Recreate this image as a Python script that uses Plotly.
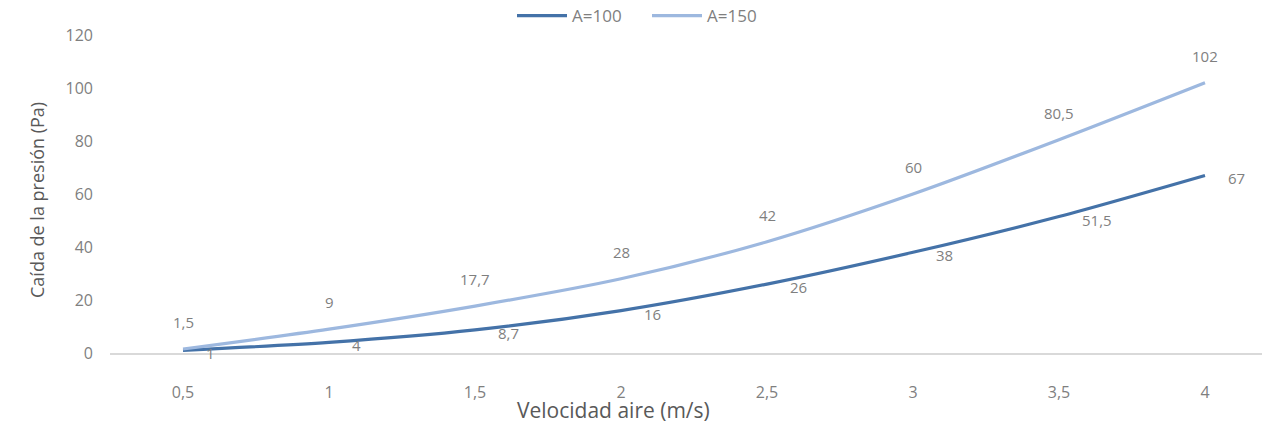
import plotly.graph_objects as go

categories = ["0,5", "1", "1,5", "2", "2,5", "3", "3,5", "4"]
a100 = [1, 4, 8.7, 16, 26, 38, 51.5, 67]
a150 = [1.5, 9, 17.7, 28, 42, 60, 80.5, 102]
y_ticks = [0, 20, 40, 60, 80, 100, 120]

def fmt(v):
    return ("%g" % v).replace(".", ",")

FONT = "Open Sans"
GRAY = "#595959"
LABEL = "#7f7f7f"
C100 = "#4472a8"
C150 = "#9db8df"

W, H = 1272, 425
PLOT_L, PLOT_R, PLOT_T, PLOT_B = 110, 1262, 35, 353   # plot area in pixels
L = PLOT_L
R = W - PLOT_R
T = PLOT_T
B = H - PLOT_B
plot_w = PLOT_R - PLOT_L
plot_h = PLOT_B - PLOT_T
CAT_W = 146.0

def px(x_px):
    return (x_px - PLOT_L) / plot_w

def py(y_px):
    return (PLOT_B - y_px) / plot_h

fig = go.Figure()
fig.add_trace(go.Scatter(
    x=categories, y=a100, name="A=100", mode="lines",
    line=dict(color=C100, width=3.2, shape="spline", smoothing=0.8),
    cliponaxis=False,
))
fig.add_trace(go.Scatter(
    x=categories, y=a150, name="A=150", mode="lines",
    line=dict(color=C150, width=3.2, shape="spline", smoothing=0.8),
    cliponaxis=False,
))

# data labels (category axis -> use index positions)
for i, v in enumerate(a100):
    fig.add_annotation(x=i, y=v, xref="x", yref="y", text=fmt(v), showarrow=False,
                       xanchor="left", yanchor="middle", xshift=21, yshift=-3,
                       font=dict(family=FONT, size=15, color=LABEL))
for i, v in enumerate(a150):
    fig.add_annotation(x=i, y=v, xref="x", yref="y", text=fmt(v), showarrow=False,
                       xanchor="center", yanchor="middle", xshift=0, yshift=27,
                       font=dict(family=FONT, size=15, color=LABEL))

fig.update_layout(
    width=W, height=H,
    margin=dict(l=L, r=R, t=T, b=B, autoexpand=False),
    paper_bgcolor="white", plot_bgcolor="white",
    font=dict(family=FONT, color=GRAY, size=15),
    legend=dict(orientation="h", x=px(512), xanchor="left",
                y=py(16), yanchor="middle",
                font=dict(size=17, color=LABEL), itemwidth=50,
                entrywidth=70, entrywidthmode="pixels",
                bgcolor="rgba(0,0,0,0)"),
    showlegend=True,
)
fig.update_xaxes(
    type="category", range=[-0.5, -0.5 + plot_w / CAT_W], showgrid=False,
    showline=True, linecolor="#d9d9d9", linewidth=2, zeroline=False,
    ticks="", tickfont=dict(size=16, color=LABEL), ticklabelstandoff=24,
    automargin=False,
)
fig.update_yaxes(
    range=[0, 120], tickvals=y_ticks, showgrid=False, zeroline=False,
    showline=False, ticks="", tickfont=dict(size=16, color=LABEL),
    ticklabelstandoff=16, automargin=False,
)
fig.add_annotation(text="Velocidad aire (m/s)", xref="paper", yref="paper",
                   x=px(613), y=py(410), xanchor="center", yanchor="middle",
                   showarrow=False, font=dict(size=21, color=GRAY, family=FONT))
fig.add_annotation(text="Caída de la presión (Pa)", xref="paper", yref="paper",
                   x=px(37), xanchor="center", y=py(200), yanchor="middle",
                   textangle=-90, showarrow=False,
                   font=dict(size=18, color=GRAY, family=FONT))

fig.write_html("out.html", config={"displayModeBar": False},
               post_script="document.body.style.margin='0px';document.body.style.overflow='hidden';")
